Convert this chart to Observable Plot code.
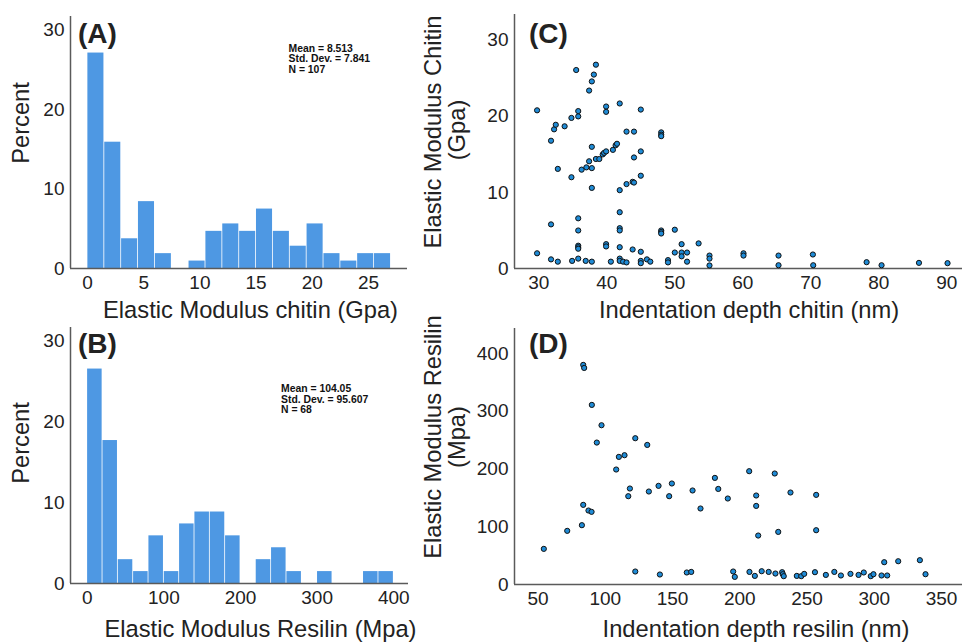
<!DOCTYPE html>
<html><head><meta charset="utf-8">
<script src="https://cdn.jsdelivr.net/npm/d3@7"></script>
<script src="https://cdn.jsdelivr.net/npm/@observablehq/plot@0.6"></script>
<style>
html,body{margin:0;padding:0;background:#fff;}
#fig{position:relative;width:963px;height:643px;overflow:hidden;font-family:"Liberation Sans",Arial,Helvetica,sans-serif;color:#222;}
.panel{position:absolute;}
.t{position:absolute;white-space:nowrap;line-height:1;}
.title{font-size:23.7px;transform:translate(-50%,-50%);}
.ytitle{font-size:23.7px;transform:translate(-50%,-50%) rotate(-90deg);}
.tag{font-size:28px;font-weight:bold;transform:translateY(-50%);color:#222;}
.stats{font-size:10.4px;font-weight:bold;transform:translateY(-50%);color:#111;}
</style></head><body><div id="fig"></div>
<script>
// ---------------- DATA ----------------
// (A) histogram of elastic modulus chitin (Gpa)
const chitinBinStart = [0,1.5,3,4.5,6,7.5,9,10.5,12,13.5,15,16.5,18,19.5,21,22.5,24,25.5];
const chitinBinEnd   = [1.5,3,4.5,6,7.5,9,10.5,12,13.5,15,16.5,18,19.5,21,22.5,24,25.5,27];
const chitinCounts   = [29,17,4,9,2,0,1,5,6,5,8,5,3,6,2,1,2,2];
const chitinN = 107;
const chitinStats = ["Mean = 8.513", "Std. Dev. = 7.841", "N = 107"];
const chitinHistXTicks = [0,5,10,15,20,25];
const percentTicks = [0,10,20,30];

// (B) histogram of elastic modulus resilin (Mpa)
const resilinBinStart = [0,20,40,60,80,100,120,140,160,180,200,220,240,260,280,300,320,340,360,380];
const resilinBinEnd   = [20,40,60,80,100,120,140,160,180,200,220,240,260,280,300,320,340,360,380,400];
const resilinCounts   = [18,12,2,1,4,1,5,6,6,4,0,2,3,1,0,1,0,0,1,1];
const resilinN = 68;
const resilinStats = ["Mean = 104.05", "Std. Dev. = 95.607", "N = 68"];
const resilinHistXTicks = [0,100,200,300,400];

// (C) scatter: indentation depth chitin (nm) vs elastic modulus chitin (Gpa)
const chitinDepth = [29.75,29.75,31.8,31.8,31.8,32.25,32.5,32.8,32.8,33.8,34.8,34.8,34.9,35.5,35.8,35.8,35.8,35.8,35.8,35.8,35.8,35.8,36.3,36.9,37.0,37.4,37.4,37.8,37.8,37.8,37.8,37.8,38.1,38.4,38.4,38.9,39.4,39.6,39.9,39.9,39.9,39.9,39.9,40.6,40.9,41.3,41.5,41.9,41.9,41.9,41.9,41.9,41.9,41.9,41.9,42.4,42.9,42.9,42.9,43.8,44.0,44.0,44.0,43.8,45.0,45.0,45.0,45.0,45.0,45.0,45.9,46.4,48.0,48.0,48.0,48.0,48.0,48.0,49.0,49.0,50.0,50.0,51.0,51.0,51.0,51.8,51.8,53.5,55.1,55.1,55.1,60.1,60.1,65.25,65.25,70.3,70.35,78.2,80.4,85.9,90.1];
const chitinModulus = [20.8,2.0,16.8,5.8,1.2,18.3,18.9,13.1,0.9,18.7,19.8,12.0,1.0,26.1,20.7,20.0,6.6,5.0,3.0,2.8,2.6,1.3,13.0,1.0,13.3,23.4,14.1,24.6,16.0,13.2,10.6,0.9,25.5,26.8,14.4,14.4,15.0,15.2,21.3,20.6,15.4,3.2,2.9,0.9,15.6,16.2,16.4,21.7,10.3,7.4,5.3,5.0,2.8,1.3,1.0,0.9,18.0,11.1,0.8,11.4,18.0,14.6,11.3,2.5,20.9,15.4,12.2,2.2,1.0,0.7,1.2,0.9,17.9,17.6,17.4,5.0,4.8,4.6,1.1,0.8,5.1,2.1,3.2,2.1,1.6,2.1,0.9,3.3,1.7,1.3,0.4,2.0,1.7,1.7,0.43,1.84,0.43,0.83,0.43,0.74,0.7];
const chitinScatterXTicks = [30,40,50,60,70,80,90];

// (D) scatter: indentation depth resilin (nm) vs elastic modulus resilin (Mpa)
const resilinDepth = [54.3,71.7,82.6,83.6,83.6,84.3,87.5,89.8,90.0,93.7,97.2,108.1,110.1,114.3,117.1,118.3,122.3,122.3,131.2,132.4,139.6,140.6,147.5,149.5,160.6,163.9,164.9,170.8,181.5,184.0,191.1,195.1,196.3,
  207.0,226.0,212.2,212.2,213.7,228.6,237.7,256.8,256.8,207.2,211.2,216.3,221.5,226.5,231.5,232.0,232.7,242.4,245.7,247.9,255.9,264.0,270.3,275.2,282.3,288.3,292.2,297.4,299.4,305.4,309.6,307.4,317.8,333.9,338.1];
const resilinModulus = [61.7,92.9,102.7,137.9,380.3,375,128.1,125.8,311,245.8,275.8,199.1,221,223.9,152.9,166.2,253.3,22.5,241.7,161,170.8,17.3,152.9,174.9,20.8,21.8,162.8,131.6,184.6,165.5,148.9,22.5,13.2,
  196.2,192.2,154.1,136.1,84.8,91.1,159.3,155.2,94.0,21.8,14.9,23,21.8,19,21.3,17.8,14.4,14.9,14.4,18.4,21.3,16.6,21.8,15.6,18.4,16.6,20.8,14.4,17.8,15.6,15.6,38.6,40.3,42.1,17.8];
const resilinScatterXTicks = [50,100,150,200,250,300,350];
const resilinYTicks = [0,100,200,300,400];

// ---------------- STYLE ----------------
const BAR = "#4e98e3";
const DOT = "#1f8bd6";
const AXIS = "#5a5a5a";
const FONT = "Liberation Sans, Arial, Helvetica, sans-serif";

const fig = document.getElementById("fig");

function place(node, left, top) {
  const d = document.createElement("div");
  d.className = "panel";
  d.style.left = left + "px";
  d.style.top = top + "px";
  d.appendChild(node);
  fig.appendChild(d);
}
function text(cls, str, left, top) {
  const d = document.createElement("div");
  d.className = "t " + cls;
  d.textContent = str;
  d.style.left = left + "px";
  d.style.top = top + "px";
  fig.appendChild(d);
}

function axes(xDomain, xTicks, yTicks) {
  return [
    Plot.ruleY([0], {stroke: AXIS, strokeWidth: 1.5}),
    Plot.ruleX([xDomain[0]], {stroke: AXIS, strokeWidth: 1.5}),
    Plot.axisX({ticks: xTicks, tickSize: 0, tickPadding: 7, label: null, fontSize: 19, fill: "#222"}),
    Plot.axisY({ticks: yTicks, tickSize: 0, tickPadding: 6, label: null, fontSize: 19, fill: "#222"})
  ];
}

function hist(starts, ends, counts, n, xDomain, yDomain, xTicks, layout) {
  const rows = starts.map((s, i) => ({x1: s, x2: ends[i], pct: counts[i] / n * 100}));
  return Plot.plot({
    width: layout.width, height: layout.height,
    marginLeft: layout.ml, marginRight: layout.mr, marginTop: layout.mt, marginBottom: layout.mb,
    style: {fontFamily: FONT, background: "transparent", overflow: "visible"},
    x: {domain: xDomain}, y: {domain: yDomain},
    marks: [
      Plot.rectY(rows.filter(d => d.pct > 0), {x1: "x1", x2: "x2", y: "pct", fill: BAR, insetLeft: 0.4, insetRight: 0.4}),
      ...axes(xDomain, xTicks, percentTicks)
    ]
  });
}

function scatter(xs, ys, xDomain, yDomain, xTicks, yTicks, layout) {
  const rows = xs.map((x, i) => ({x, y: ys[i]}));
  return Plot.plot({
    width: layout.width, height: layout.height,
    marginLeft: layout.ml, marginRight: layout.mr, marginTop: layout.mt, marginBottom: layout.mb,
    style: {fontFamily: FONT, background: "transparent", overflow: "visible"},
    x: {domain: xDomain}, y: {domain: yDomain},
    marks: [
      ...axes(xDomain, xTicks, yTicks),
      Plot.dot(rows, {x: "x", y: "y", r: 2.6, fill: DOT, stroke: "#111", strokeWidth: 1})
    ]
  });
}

// (A)
place(hist(chitinBinStart, chitinBinEnd, chitinCounts, chitinN, [-1.51, 28.47], [0, 31.7], chitinHistXTicks,
  {width: 420, height: 320, ml: 70, mr: 13, mt: 16, mb: 52}), 0, 0);
// (B)
place(hist(resilinBinStart, resilinBinEnd, resilinCounts, resilinN, [-21.8, 419.2], [0, 31.6], resilinHistXTicks,
  {width: 420, height: 323, ml: 70, mr: 12, mt: 7, mb: 60}), 0, 320);
// (C)
place(scatter(chitinDepth, chitinModulus, [26.43, 92.3], [0, 33.4], chitinScatterXTicks, percentTicks,
  {width: 543, height: 320, ml: 94, mr: 1, mt: 14, mb: 52}), 420, 0);
// (D)
place(scatter(resilinDepth, resilinModulus, [32.5, 365.6], [0, 443.3], resilinScatterXTicks, resilinYTicks,
  {width: 543, height: 323, ml: 94, mr: 1, mt: 8, mb: 59}), 420, 320);

// panel tags
text("tag", "(A)", 78, 33.5);
text("tag", "(B)", 78, 344);
text("tag", "(C)", 529, 33.5);
text("tag", "(D)", 529, 343.5);

// stats
chitinStats.forEach((s, i) => text("stats", s, 288.5, 49 + i * 10.3));
resilinStats.forEach((s, i) => text("stats", s, 281, 389 + i * 10.5));

// axis titles
text("title", "Elastic Modulus chitin (Gpa)", 250.5, 310.5);
text("title", "Elastic Modulus Resilin (Mpa)", 260.5, 629.5);
text("title", "Indentation depth chitin (nm)", 749, 310.5);
text("title", "Indentation depth resilin (nm)", 756, 629.5);
text("ytitle", "Percent", 21.7, 123);
text("ytitle", "Percent", 21.7, 443);
text("ytitle", "Elastic Modulus Chitin", 434, 131.5);
text("ytitle", "(Gpa)", 458, 130);
text("ytitle", "Elastic Modulus Resilin", 434, 436.5);
text("ytitle", "(Mpa)", 458, 436.5);
</script></body></html>
